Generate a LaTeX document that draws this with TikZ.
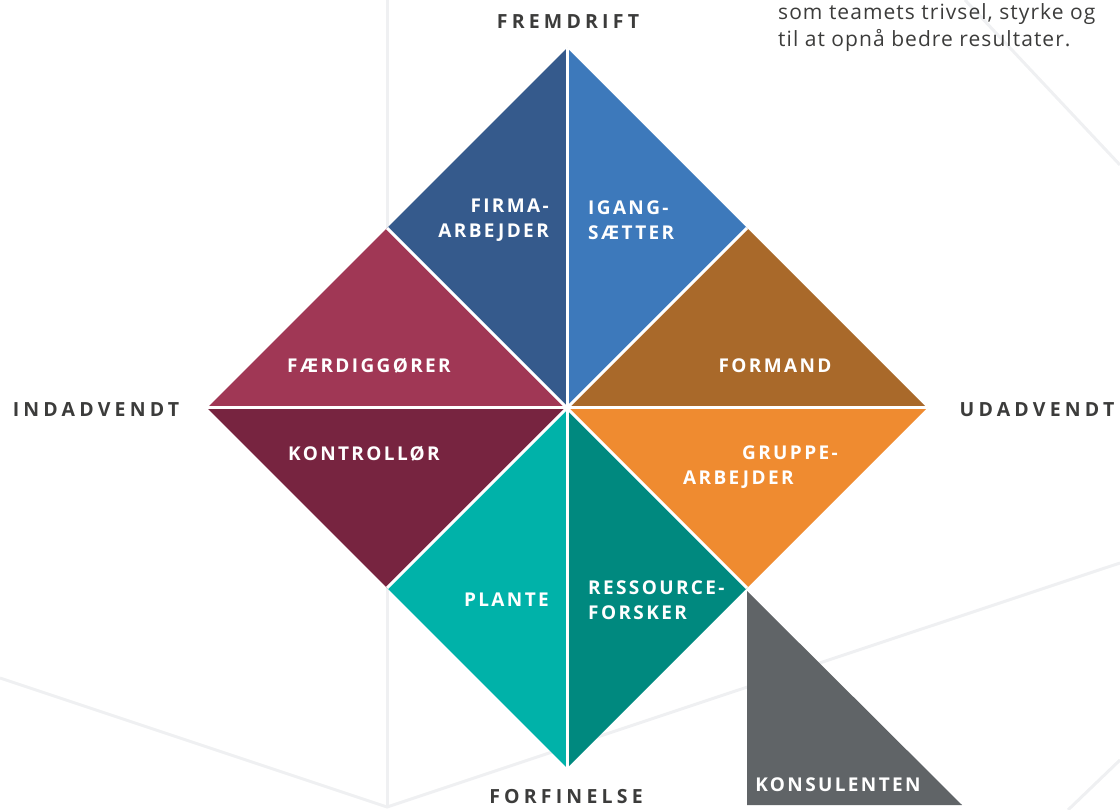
\documentclass[tikz,border=0pt]{standalone}
\usepackage{fontspec}
\setmainfont{Open Sans}
\newfontfamily\rolefont[LetterSpace=12.5]{Open Sans}
\newfontfamily\axisfont[LetterSpace=21.5]{Open Sans}
\newfontfamily\introfont[LetterSpace=5]{Open Sans}
\usetikzlibrary{positioning}

\definecolor{firmacol}{HTML}{355A8C}
\definecolor{igangcol}{HTML}{3D79BB}
\definecolor{formandcol}{HTML}{A9692A}
\definecolor{gruppecol}{HTML}{EF8B30}
\definecolor{ressourcecol}{HTML}{00897F}
\definecolor{plantecol}{HTML}{00B2A9}
\definecolor{kontrolcol}{HTML}{772440}
\definecolor{faerdigcol}{HTML}{A03755}
\definecolor{konsulcol}{HTML}{606467}
\definecolor{textgray}{HTML}{3C3C3B}
\definecolor{bggray}{HTML}{EFF0F2}

\begin{document}
\begin{tikzpicture}[x=1pt,y=-1pt
  , role/.style={ font=\rolefont\bfseries\fontsize{19}{25}\selectfont
                , text=white
                , inner sep=0pt
                }
  , axislabel/.style={ font=\axisfont\bfseries\fontsize{19.5}{22}\selectfont
                     , text=textgray
                     , inner sep=0pt
                     }
  , bgline/.style={bggray, line width=3pt}
  , gap/.style={white, line width=3pt}
  ]

  \useasboundingbox (0,0) rectangle (1120,810);

  % faint lines in the background
  \draw [bgline] (0,678) -- (387,807) -- (1120,563);
  \draw [bgline] (387,0) -- (387,807);
  \draw [bgline] (965,0) -- (1120,165);
  \draw [bgline] (1068,810) -- (1120,760);

  \node (intro) [anchor=north west, align=left, inner sep=0pt, text=textgray
    , font=\introfont\fontsize{21}{27}\selectfont] at (778,3)
    {som teamets trivsel, styrke og\\til at opnå bedre resultater.};

  % corners of the diamond
  \coordinate (c)  at (567,408);
  \coordinate (n)  at (567,48);
  \coordinate (s)  at (567,768);
  \coordinate (w)  at (207,408);
  \coordinate (e)  at (927,408);
  \coordinate (nw) at (387,228);
  \coordinate (ne) at (747,228);
  \coordinate (se) at (747,588);
  \coordinate (sw) at (387,588);

  \fill [firmacol]     (n)  -- (nw) -- (c) -- cycle;
  \fill [igangcol]     (n)  -- (ne) -- (c) -- cycle;
  \fill [formandcol]   (ne) -- (e)  -- (c) -- cycle;
  \fill [gruppecol]    (e)  -- (se) -- (c) -- cycle;
  \fill [ressourcecol] (se) -- (s)  -- (c) -- cycle;
  \fill [plantecol]    (s)  -- (sw) -- (c) -- cycle;
  \fill [kontrolcol]   (sw) -- (w)  -- (c) -- cycle;
  \fill [faerdigcol]   (w)  -- (nw) -- (c) -- cycle;

  \draw [gap] (n)  -- (s);
  \draw [gap] (w)  -- (e);
  \draw [gap] (nw) -- (se);
  \draw [gap] (ne) -- (sw);

  % the extra triangle below
  \coordinate (k1) at (747,591);
  \coordinate (k2) at (747,805);
  \coordinate (k3) at (962,805);
  \fill [konsulcol] (k1) -- (k2) -- (k3) -- cycle;

  \node (firma)     [role, anchor=east, align=right] at (549,220) {FIRMA-\\ARBEJDER};
  \node (igang)     [role, anchor=west, align=left]  at (588,220) {IGANG-\\SÆTTER};
  \node (faerdig)   [role] at (369,366) {FÆRDIGGØRER};
  \node (formand)   [role] at (775,366) {FORMAND};
  \node (kontrol)   [role] at (364,454) {KONTROLLØR};
  \node (gruppe)    [role, anchor=west, align=left]  at (683,467.5)
    {\hspace*{59pt}GRUPPE-\\ARBEJDER};
  \node (plante)    [role, anchor=east] at (549,600) {PLANTE};
  \node (ressource) [role, anchor=west, align=left]  at (588,600) {RESSOURCE-\\FORSKER};
  \node (konsul)    [role] at (838,785) {KONSULENTEN};

  \node (fremdrift) [axislabel] at (568,22)  {FREMDRIFT};
  \node (indad)     [axislabel] at (96,410)  {INDADVENDT};
  \node (udad)      [axislabel] at (1037,410) {UDADVENDT};
  \node (forfin)    [axislabel] at (566,797) {FORFINELSE};

\end{tikzpicture}
\end{document}
